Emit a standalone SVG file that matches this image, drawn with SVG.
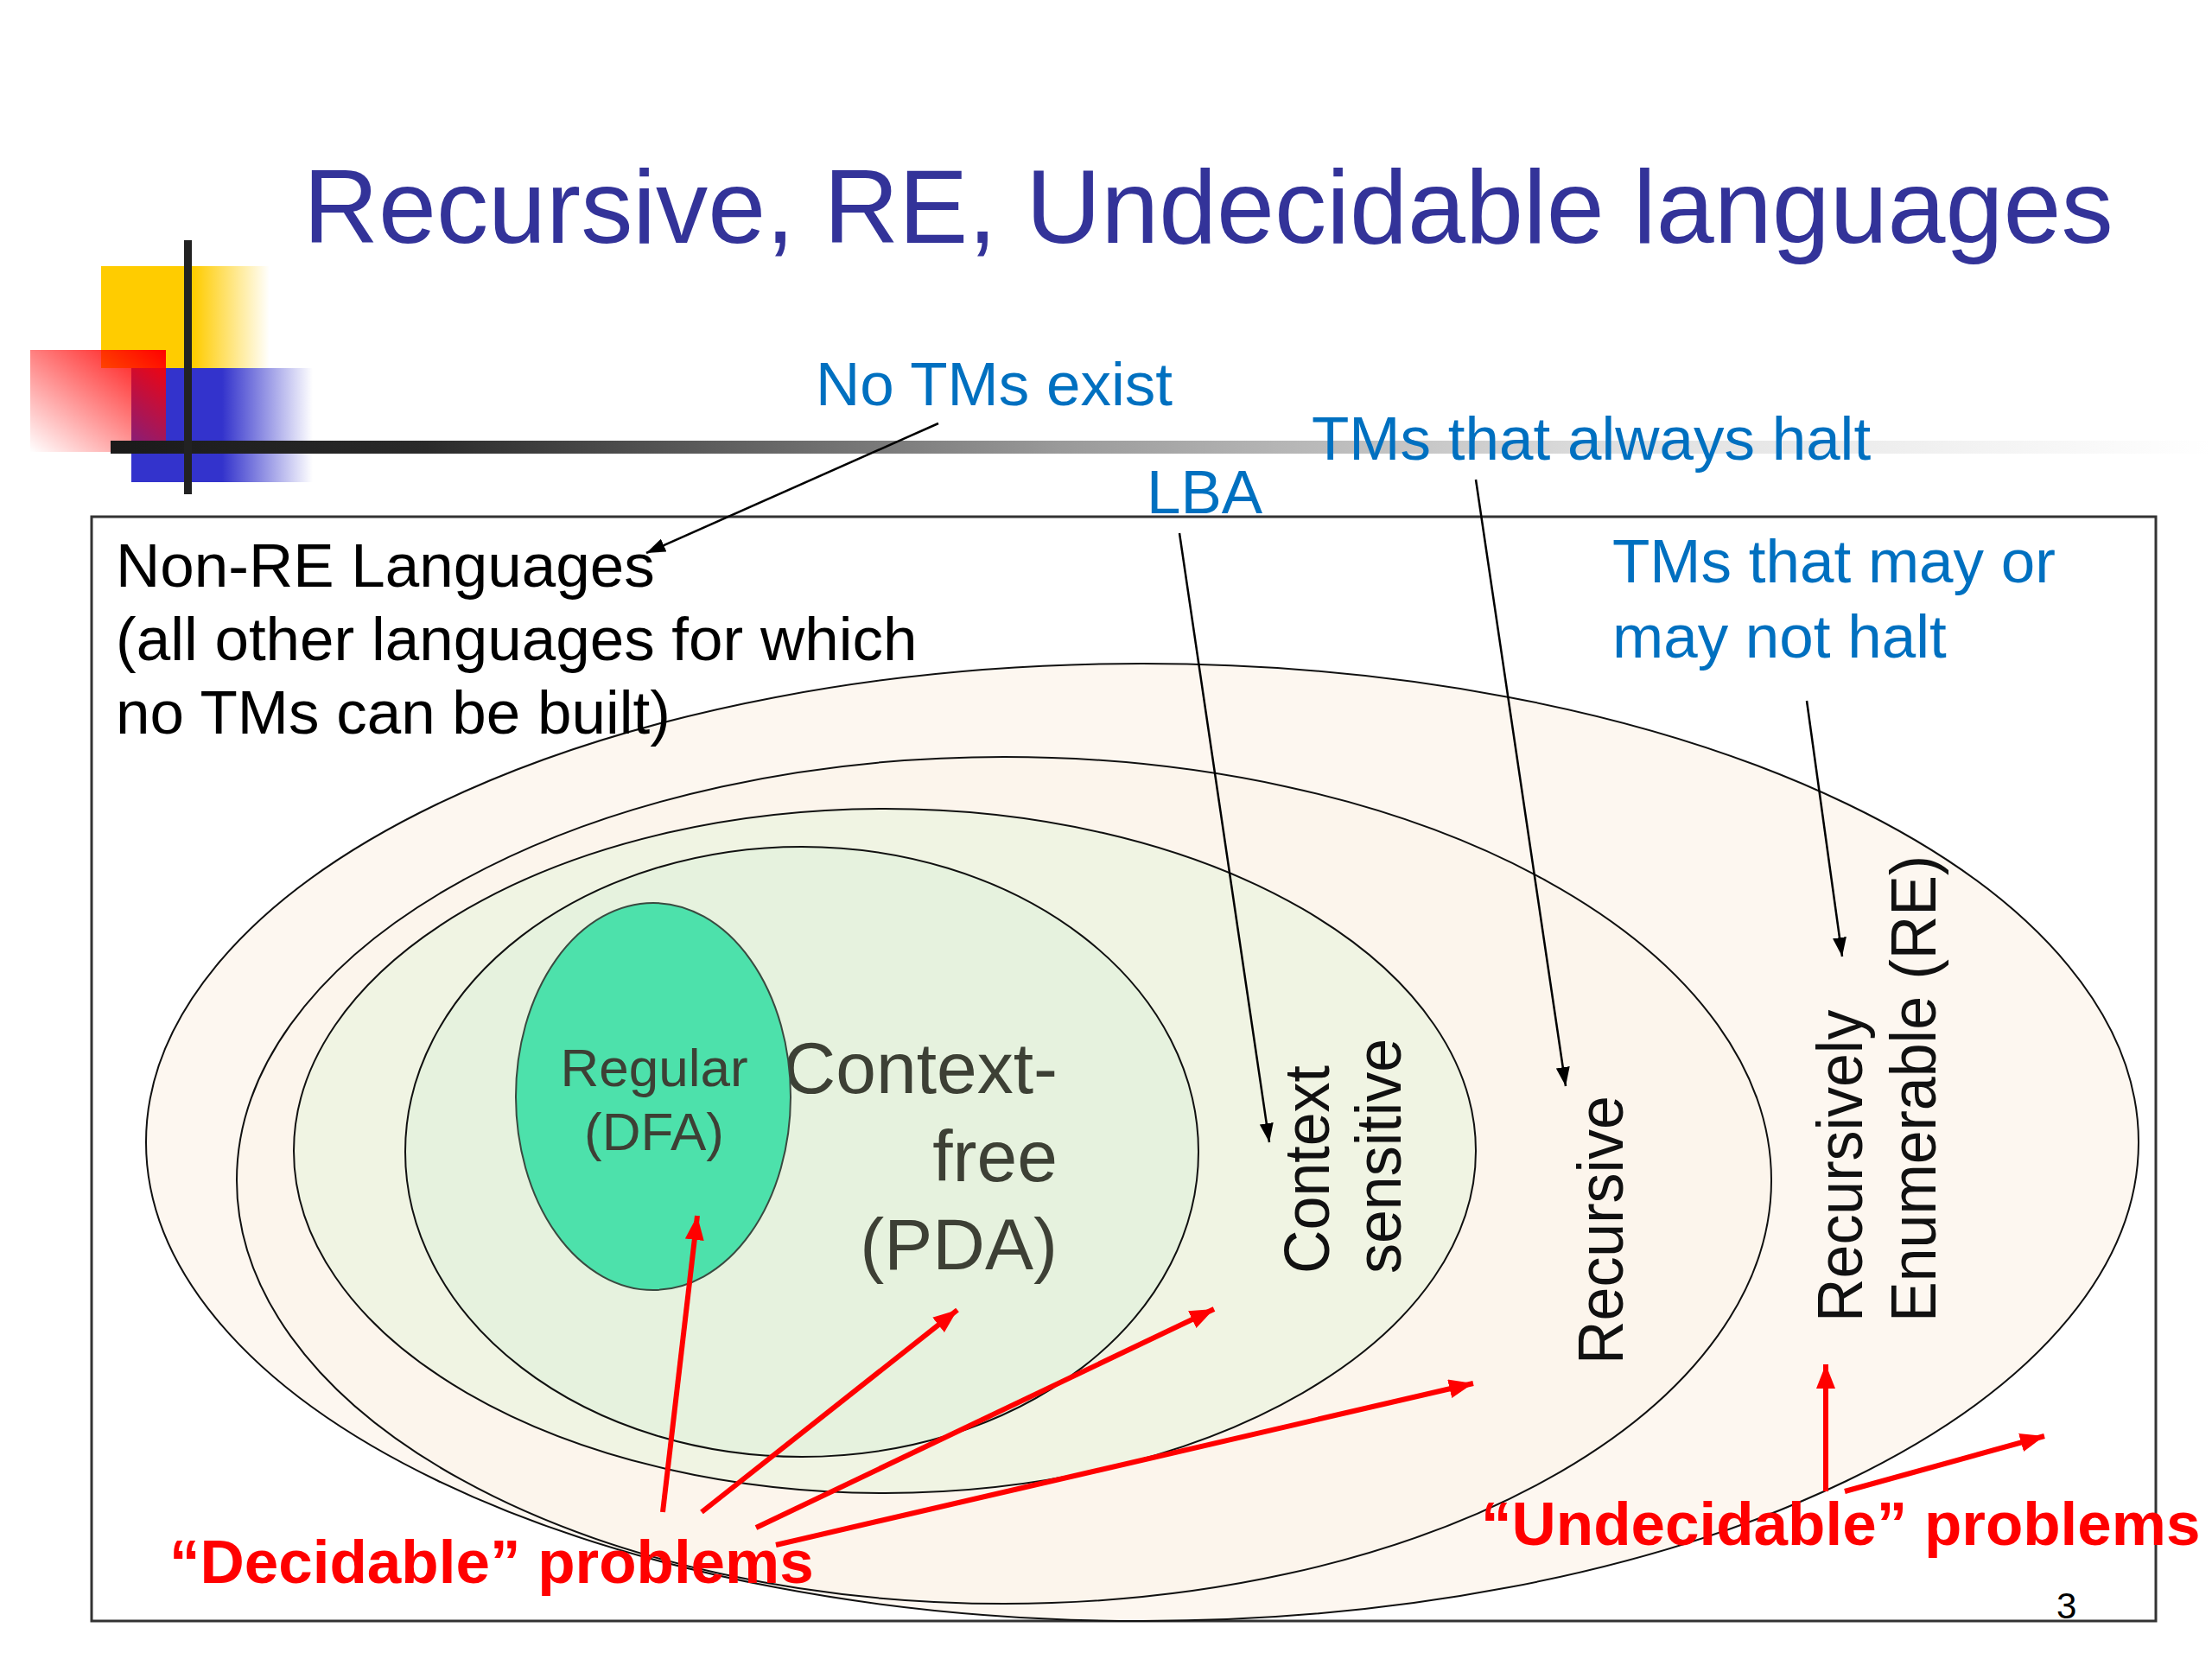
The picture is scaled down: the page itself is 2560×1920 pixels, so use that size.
<svg xmlns="http://www.w3.org/2000/svg" width="2560" height="1920" viewBox="0 0 2560 1920">
<defs>
<style>
text{font-family:"Liberation Sans",Arial,sans-serif}
.title{font-size:120.4px;fill:#333399}
.blue{font-size:71px;fill:#0070C0}
.blk{font-size:71px;fill:#000}
.inner{fill:#3d4035}
.rot{font-size:74px;fill:#111}
.red{font-size:71px;fill:#FF0000;font-weight:bold}
.ell{stroke:#111;stroke-width:2}
.ca{stroke:#000;stroke-width:2.5;fill:none}
.ra{stroke:#FF0000;stroke-width:6;fill:none}
</style>
<linearGradient id="bar" x1="0" y1="0" x2="1" y2="0">
<stop offset="0" stop-color="#1a1a1a"/>
<stop offset="0.15" stop-color="#2a2a2a"/>
<stop offset="0.45" stop-color="#999"/>
<stop offset="0.72" stop-color="#e0e0e0"/>
<stop offset="1" stop-color="#fff"/>
</linearGradient>
<linearGradient id="yel" x1="0" y1="0" x2="1" y2="0">
<stop offset="0" stop-color="#FFCC00"/>
<stop offset="0.55" stop-color="#FFCC00"/>
<stop offset="1" stop-color="#FFCC00" stop-opacity="0"/>
</linearGradient>
<linearGradient id="blu" x1="0" y1="0" x2="1" y2="0">
<stop offset="0" stop-color="#3333CC"/>
<stop offset="0.5" stop-color="#3333CC"/>
<stop offset="1" stop-color="#3333CC" stop-opacity="0"/>
</linearGradient>
<linearGradient id="redg" x1="1" y1="0" x2="0" y2="1">
<stop offset="0" stop-color="#FF0000"/>
<stop offset="1" stop-color="#FF0000" stop-opacity="0"/>
</linearGradient>
<marker id="ab" markerUnits="userSpaceOnUse" markerWidth="26" markerHeight="20" refX="22" refY="8" orient="auto">
<path d="M0,0 L22,8 L0,16 Z" fill="#000"/>
</marker>
<marker id="ar" markerUnits="userSpaceOnUse" markerWidth="32" markerHeight="26" refX="28" refY="11" orient="auto">
<path d="M0,0 L28,11 L0,22 Z" fill="#FF0000"/>
</marker>
</defs>
<rect width="2560" height="1920" fill="#fff"/>

<g id="logo">
<rect x="117" y="308" width="195" height="118" fill="url(#yel)"/>
<rect x="152" y="426" width="210" height="132" fill="url(#blu)"/>
<rect x="35" y="405" width="157" height="118" fill="url(#redg)"/>
<rect x="128" y="510" width="2432" height="15" fill="url(#bar)"/>
<rect x="213" y="278" width="9" height="294" fill="#222"/>
</g>

<text class="title" x="351" y="281">Recursive, RE, Undecidable languages</text>

<rect id="frame" x="106" y="598" width="2389" height="1278" fill="none" stroke="#333" stroke-width="3"/>

<g id="re">
<ellipse class="ell" cx="1322" cy="1322" rx="1153" ry="554" fill="#FDF7F0"/>
<text class="rot" transform="translate(2155,1530) rotate(-90) scale(0.945,1)">Recursively</text>
<text class="rot" transform="translate(2240,1530) rotate(-90) scale(0.945,1)">Enumerable (RE)</text>
</g>
<g id="recursive">
<ellipse class="ell" cx="1162" cy="1366" rx="888" ry="490" fill="#FCF5EC"/>
<text class="rot" transform="translate(1878,1579) rotate(-90) scale(0.945,1)">Recursive</text>
</g>
<g id="context-sensitive">
<ellipse class="ell" cx="1024" cy="1332" rx="684" ry="396" fill="#F0F4E3"/>
<text class="rot" transform="translate(1538,1474) rotate(-90) scale(0.945,1)">Context</text>
<text class="rot" transform="translate(1621,1474) rotate(-90) scale(0.945,1)">sensitive</text>
</g>
<g id="context-free">
<ellipse class="ell" cx="928" cy="1333" rx="459" ry="353" fill="#E6F2DE"/>
<text class="inner" style="font-size:84px" text-anchor="end"><tspan x="1224" y="1265">Context-</tspan><tspan x="1224" y="1367">free</tspan><tspan x="1224" y="1469">(PDA)</tspan></text>
</g>
<g id="regular">
<ellipse cx="756" cy="1269" rx="159" ry="224" fill="#4DE1AB" stroke="#3a4a40" stroke-width="2"/>
<text class="inner" style="font-size:62px" text-anchor="middle"><tspan x="757" y="1257">Regular</tspan><tspan x="757" y="1331">(DFA)</tspan></text>
</g>

<g id="non-re">
<text class="blk"><tspan x="134" y="679">Non-RE Languages</tspan><tspan x="134" y="764">(all other languages for which</tspan><tspan x="134" y="849">no TMs can be built)</tspan></text>
</g>

<g id="labels">
<text class="blue" x="944" y="469">No TMs exist</text>
<text class="blue" x="1518" y="532">TMs that always halt</text>
<text class="blue" x="1327" y="594">LBA</text>
<text class="blue"><tspan x="1866" y="674">TMs that may or</tspan><tspan x="1866" y="761">may not halt</tspan></text>
<text class="red" x="196" y="1832">“Decidable” problems</text>
<text class="red" x="1714" y="1788">“Undecidable” problems</text>
<text x="2380" y="1873" style="font-size:42px;fill:#000">3</text>
</g>

<g id="connectors">
<line class="ca" x1="1086" y1="490" x2="748" y2="640" marker-end="url(#ab)"/>
<line class="ca" x1="1365" y1="617" x2="1469" y2="1322" marker-end="url(#ab)"/>
<line class="ca" x1="1708" y1="555" x2="1812" y2="1257" marker-end="url(#ab)"/>
<line class="ca" x1="2091" y1="811" x2="2132" y2="1107" marker-end="url(#ab)"/>
<line class="ra" x1="767" y1="1750" x2="807" y2="1407" marker-end="url(#ar)"/>
<line class="ra" x1="812" y1="1750" x2="1108" y2="1516" marker-end="url(#ar)"/>
<line class="ra" x1="875" y1="1768" x2="1405" y2="1515" marker-end="url(#ar)"/>
<line class="ra" x1="898" y1="1788" x2="1705" y2="1601" marker-end="url(#ar)"/>
<line class="ra" x1="2113" y1="1726" x2="2113" y2="1579" marker-end="url(#ar)"/>
<line class="ra" x1="2135" y1="1726" x2="2366" y2="1662" marker-end="url(#ar)"/>
</g>
</svg>
